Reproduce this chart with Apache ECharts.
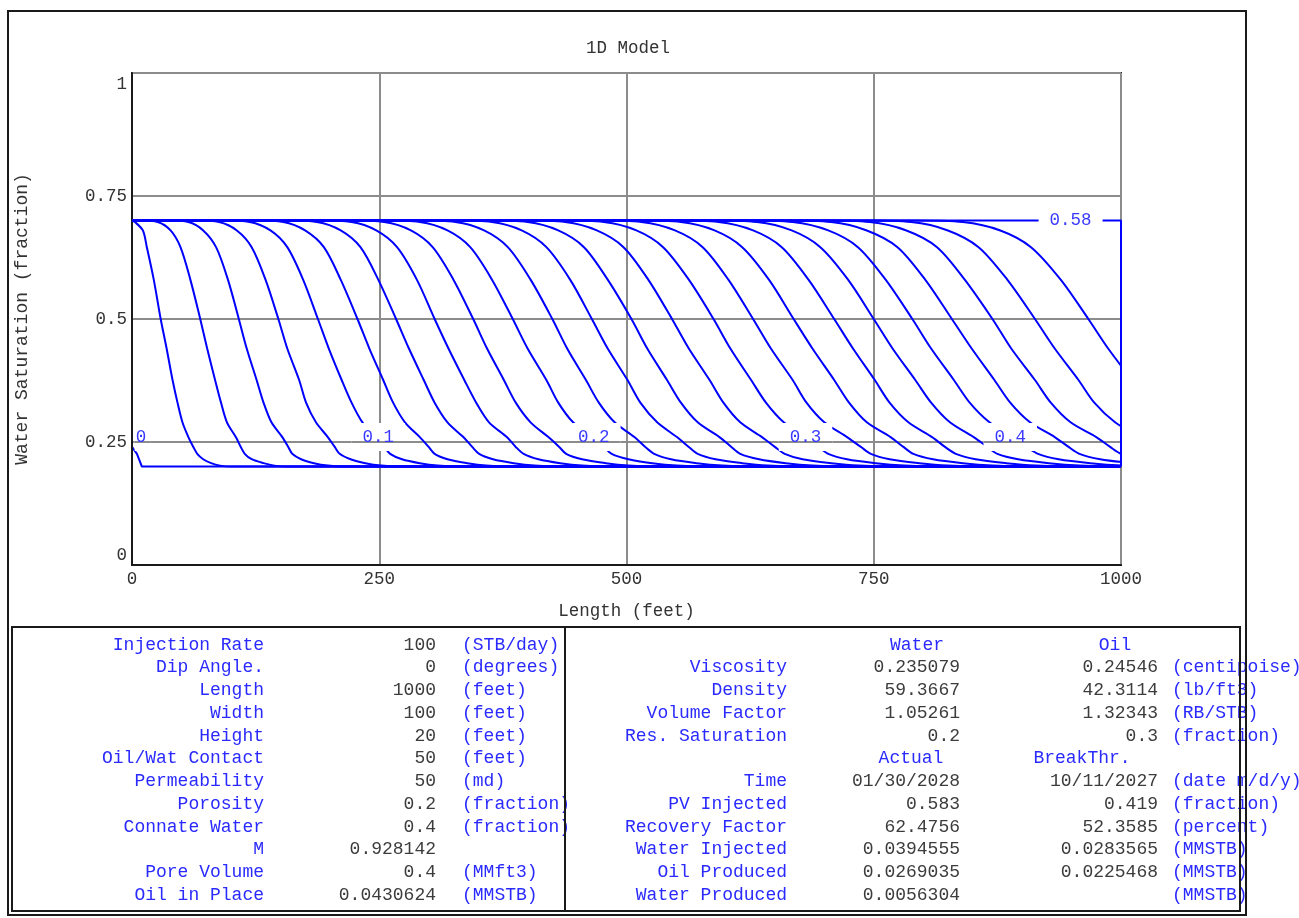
<!DOCTYPE html>
<html><head><meta charset="utf-8">
<script src="https://cdn.jsdelivr.net/npm/echarts@6/dist/echarts.min.js"></script>
<style>html,body{margin:0;padding:0;background:#fff}#c{width:1299px;height:918px}</style>
</head><body><div id="c"></div>
<script>
// ---- chart data ----
const swLevels = [0.7, 0.697, 0.68, 0.646, 0.58, 0.5, 0.44, 0.376, 0.33, 0.29, 0.26, 0.24, 0.226, 0.215, 0.207, 0.202, 0.2];
const pvValues = [0.02,0.04,0.06,0.08,0.10,0.12,0.14,0.16,0.18,0.20,0.22,0.24,0.26,0.28,0.30,0.32,0.34,0.36,0.38,0.40,0.42,0.44,0.46,0.48];
const curveX = [
  [0, 3, 11, 15, 22, 29, 35, 41, 46, 51, 57, 62, 66, 72, 80, 89, 100],
  [9, 26, 39, 49, 59, 69, 76, 84, 90, 96, 105, 110, 114, 121, 133, 144, 157],
  [37, 57, 72, 85, 97, 108, 116, 126, 133, 141, 152, 158, 162, 171, 184, 198, 213],
  [65, 88, 106, 121, 135, 148, 157, 169, 176, 186, 198, 205, 210, 221, 236, 252, 270],
  [92, 119, 140, 157, 173, 188, 199, 212, 222, 233, 247, 255, 261, 273, 291, 309, 330],
  [124, 153, 175, 194, 211, 228, 240, 254, 264, 276, 291, 300, 306, 319, 339, 358, 381],
  [156, 187, 211, 231, 249, 267, 280, 295, 306, 319, 335, 344, 351, 365, 386, 407, 432],
  [188, 222, 247, 268, 288, 306, 320, 336, 348, 361, 379, 388, 396, 411, 433, 455, 481],
  [220, 255, 282, 304, 325, 345, 359, 376, 388, 403, 421, 432, 439, 455, 479, 502, 529],
  [254, 291, 319, 342, 364, 385, 400, 419, 431, 446, 466, 477, 485, 502, 526, 551, 580],
  [288, 327, 356, 380, 403, 425, 440, 459, 472, 488, 508, 519, 528, 545, 571, 597, 626],
  [324, 364, 394, 419, 443, 465, 481, 501, 514, 531, 551, 563, 572, 590, 617, 643, 674],
  [359, 400, 431, 457, 481, 505, 521, 541, 555, 572, 594, 606, 615, 634, 661, 688, 720],
  [396, 438, 470, 497, 522, 546, 563, 584, 598, 615, 637, 650, 660, 678, 707, 735, 768],
  [434, 477, 510, 537, 563, 588, 605, 626, 641, 659, 681, 694, 704, 723, 752, 781, 815],
  [471, 515, 549, 577, 603, 628, 646, 668, 682, 700, 723, 737, 747, 766, 796, 825, 859],
  [510, 555, 589, 617, 644, 669, 688, 710, 725, 743, 767, 780, 790, 810, 840, 870, 905],
  [548, 593, 628, 657, 684, 710, 729, 751, 766, 785, 809, 822, 833, 853, 884, 914, 950],
  [585, 632, 667, 696, 724, 750, 769, 792, 808, 827, 851, 865, 875, 896, 927, 958, 994],
  [621, 668, 704, 734, 762, 789, 808, 831, 847, 867, 891, 905, 916, 937, 969, 1001, 1037],
  [659, 707, 743, 774, 802, 829, 849, 872, 888, 908, 933, 947, 958, 979, 1011, 1043, 1080],
  [698, 746, 783, 814, 842, 870, 889, 913, 929, 949, 975, 989, 1000, 1022, 1054, 1086, 1124],
  [739, 788, 825, 856, 885, 913, 933, 957, 973, 994, 1019, 1034, 1045, 1067, 1099, 1132, 1170],
  [791, 840, 878, 909, 939, 967, 987, 1011, 1028, 1048, 1074, 1089, 1100, 1122, 1155, 1188, 1227]
];
const pv0X = [0, 0, 5, 10, 1000];
const pv0Sw = [0.7, 0.24, 0.226, 0.2, 0.2];
const finalX = [0, 1000, 1000];
const finalSw = [0.7, 0.7, 0.2];
const labelText = ['0', '0.1', '0.2', '0.3', '0.4', '0.58'];
const labelX = [9, 249, 467, 681, 888, 949];
const labelY = [0.26, 0.26, 0.26, 0.26, 0.26, 0.7];
const yGridValues = [0.25, 0.5, 0.75];

// ---- table data ----
const leftNames = ['Injection Rate','Dip Angle.','Length','Width','Height','Oil/Wat Contact','Permeability','Porosity','Connate Water','M','Pore Volume','Oil in Place'];
const leftValues = ['100','0','1000','100','20','50','50','0.2','0.4','0.928142','0.4','0.0430624'];
const leftUnits = ['(STB/day)','(degrees)','(feet)','(feet)','(feet)','(feet)','(md)','(fraction)','(fraction)','','(MMft3)','(MMSTB)'];
const rightNames = ['','Viscosity','Density','Volume Factor','Res. Saturation','','Time','PV Injected','Recovery Factor','Water Injected','Oil Produced','Water Produced'];
const rightCol1 = ['','0.235079','59.3667','1.05261','0.2','','01/30/2028','0.583','62.4756','0.0394555','0.0269035','0.0056304'];
const rightCol2 = ['','0.24546','42.3114','1.32343','0.3','','10/11/2027','0.419','52.3585','0.0283565','0.0225468',''];
const rightUnits = ['','(centipoise)','(lb/ft3)','(RB/STB)','(fraction)','','(date m/d/y)','(fraction)','(percent)','(MMSTB)','(MMSTB)','(MMSTB)'];
const headers1 = ['Water', 'Oil'];
const headers2 = ['Actual', 'BreakThr.'];

const MONO = '"Liberation Mono", "Courier New", monospace';
const BLUE = '#0000ff';
const TBLUE = '#2a2aff';
const GREY = '#3c3c3c';
const GRIDC = '#8c8c8c';

const chart = echarts.init(document.getElementById('c'), null, {renderer: 'canvas'});

const series = [];
series.push({
  type: 'line', data: pv0X.map((x, i) => [x, pv0Sw[i]]), symbol: 'none', smooth: false,
  lineStyle: {color: BLUE, width: 2}, silent: true, z: 1
});
curveX.forEach((xs, k) => {
  const d = [[0, 0.7]].concat(xs.map((x, j) => [x, swLevels[j]]));
  if (xs[xs.length - 1] < 1000) d.push([1000, 0.2]);
  series.push({
    type: 'line', name: String(pvValues[k]), data: d, symbol: 'none',
    smooth: 0.3, clip: true,
    lineStyle: {color: BLUE, width: 2}, silent: true, z: 2
  });
});
series.push({
  type: 'line', data: finalX.map((x, i) => [x, finalSw[i]]), symbol: 'none', smooth: false,
  lineStyle: {color: BLUE, width: 2}, silent: true, z: 2
});
// contour labels: white box hides the curves, gridline kept visible
series.push({
  type: 'custom', z: 5, silent: true, clip: false,
  data: labelX.map((x, i) => [x, labelY[i]]),
  renderItem: function (params, api) {
    const i = params.dataIndex;
    const p = api.coord([api.value(0), api.value(1)]);
    const t = labelText[i];
    const tw = t.length * 10.5;
    const padL = i === 0 ? 1 : 11, padR = i === 0 ? 4 : 11;
    const h = 28;
    const x0 = p[0] - tw / 2 - padL, x1 = p[0] + tw / 2 + padR;
    const y0 = p[1] - h / 2, y1 = p[1] + h / 2;
    const children = [{type: 'rect', shape: {x: x0, y: y0, width: x1 - x0, height: h}, style: {fill: '#ffffff'}}];
    yGridValues.forEach(v => {
      const gy = api.coord([0, v])[1];
      if (gy > y0 && gy < y1) {
        children.push({type: 'line', shape: {x1: x0, y1: gy, x2: x1, y2: gy}, style: {stroke: GRIDC, lineWidth: 2}});
      }
    });
    children.push({type: 'text', x: p[0], y: p[1],
      style: {text: t, fill: '#3a3aff', font: '17.5px ' + MONO, align: 'center', verticalAlign: 'middle',
              textAlign: 'center', textVerticalAlign: 'middle'}});
    return {type: 'group', children: children};
  }
});

// ---- table graphics ----
const g = [];
const rowY = i => 645 + i * 22.72;
function txt(s, x, y, align, color) {
  if (!s) return;
  g.push({type: 'text', x: x, y: y, z: 50, silent: true,
    style: {text: s, font: '18px ' + MONO, fill: color, align: align, verticalAlign: 'middle',
            textAlign: align, textVerticalAlign: 'middle'}});
}
leftNames.forEach((s, i) => {
  txt(s, 264, rowY(i), 'right', TBLUE);
  txt(leftValues[i], 436, rowY(i), 'right', GREY);
  txt(leftUnits[i], 462, rowY(i), 'left', TBLUE);
});
rightNames.forEach((s, i) => {
  txt(s, 787, rowY(i), 'right', TBLUE);
  txt(rightCol1[i], 960, rowY(i), 'right', GREY);
  txt(rightCol2[i], 1158, rowY(i), 'right', GREY);
  txt(rightUnits[i], 1172, rowY(i), 'left', TBLUE);
});
txt(headers1[0], 917, rowY(0), 'center', TBLUE);
txt(headers1[1], 1115, rowY(0), 'center', TBLUE);
txt(headers2[0], 911, rowY(5), 'center', TBLUE);
txt(headers2[1], 1082, rowY(5), 'center', TBLUE);

g.push({type: 'rect', z: 60, silent: true, shape: {x: 8, y: 11, width: 1238, height: 904},
  style: {fill: 'none', stroke: '#1a1a1a', lineWidth: 2}});
g.push({type: 'rect', z: 60, silent: true, shape: {x: 12, y: 627, width: 1228, height: 284},
  style: {fill: 'none', stroke: '#1a1a1a', lineWidth: 2}});
g.push({type: 'line', z: 60, silent: true, shape: {x1: 565, y1: 627, x2: 565, y2: 911},
  style: {stroke: '#1a1a1a', lineWidth: 2}});

const option = {
  animation: false,
  backgroundColor: '#ffffff',
  title: {
    text: '1D Model', left: 623, top: 34, textAlign: 'center',
    textStyle: {fontFamily: MONO, fontSize: 17.5, fontWeight: 'normal', color: '#333'}
  },
  grid: {left: 132, top: 73, width: 989, height: 492, containLabel: false, outerBoundsMode: 'none',
    show: true, borderColor: '#1a1a1a', borderWidth: 2, backgroundColor: 'transparent'},
  xAxis: {
    type: 'value', min: 0, max: 1000, interval: 250, z: 1.5,
    name: 'Length (feet)', nameLocation: 'middle', nameGap: 37,
    nameTextStyle: {fontFamily: MONO, fontSize: 17.5, color: '#333'},
    axisLine: {show: true, onZero: false, lineStyle: {color: '#1a1a1a', width: 2}},
    axisTick: {show: false},
    axisLabel: {margin: 5, fontFamily: MONO, fontSize: 17.5, color: '#333', formatter: v => String(v)},
    splitLine: {show: true, lineStyle: {color: GRIDC, width: 2}}
  },
  yAxis: {
    type: 'value', min: 0, max: 1, interval: 0.25, z: 1.5,
    name: 'Water Saturation (fraction)', nameLocation: 'middle', nameGap: 101, nameRotate: 90,
    nameTextStyle: {fontFamily: MONO, fontSize: 18, color: '#333'},
    axisLine: {show: true, onZero: false, lineStyle: {color: '#1a1a1a', width: 2}},
    axisTick: {show: false},
    axisLabel: {
      margin: 5, fontFamily: MONO, fontSize: 17.5, color: '#333',
      formatter: v => v === 1 ? '{t|1}' : (v === 0 ? '{b|0}' : String(v)),
      rich: {
        t: {padding: [22, 0, 0, 0], fontFamily: MONO, fontSize: 17.5, color: '#333'},
        b: {padding: [0, 0, 20, 0], fontFamily: MONO, fontSize: 17.5, color: '#333'}
      }
    },
    splitLine: {show: true, lineStyle: {color: GRIDC, width: 2}}
  },
  series: series,
  graphic: g
};
chart.setOption(option);
</script>
</body></html>
